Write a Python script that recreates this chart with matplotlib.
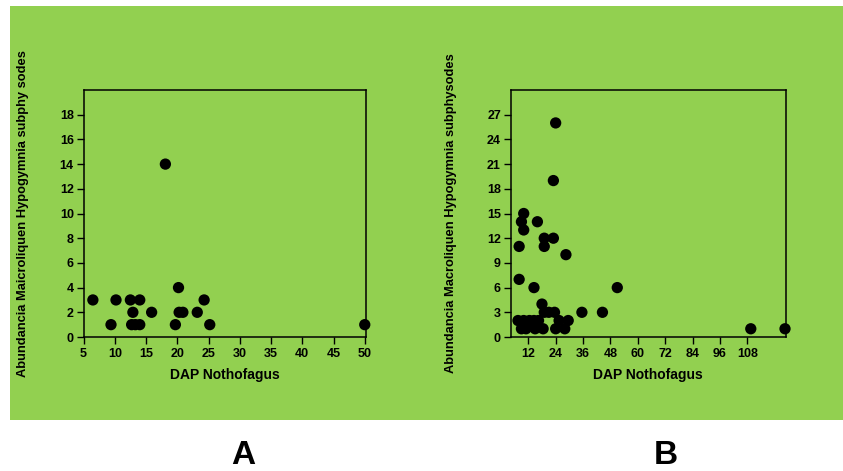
import matplotlib
matplotlib.use("Agg")
import matplotlib.pyplot as plt
from matplotlib.patches import Rectangle

plt.rcParams['font.family'] = ['Liberation Sans', 'DejaVu Sans']
plt.rcParams['font.weight'] = 'bold'

# Panel A: DAP vs abundancia (Maicroliquen)
dap_a = [6.5, 10.2, 9.4, 12.5, 14.0, 12.9, 12.7, 13.3, 14.0, 15.9, 18.1,
         19.7, 20.2, 20.3, 20.9, 23.2, 24.3, 25.2, 50.0]
abund_a = [3, 3, 1, 3, 3, 2, 1, 1, 1, 2, 14,
           1, 4, 2, 2, 2, 3, 1, 1]

# Panel B: DAP vs abundancia (Macroliquen)
dap_b = [24.0, 23.0, 10.0, 9.0, 16.0, 10.0, 19.0, 23.0, 8.0, 19.0, 28.5,
         8.0, 14.5, 51.0, 18.0, 19.0, 21.0, 23.5, 35.5, 44.5,
         7.5, 10.0, 12.5, 14.5, 16.5, 25.5, 29.5,
         9.0, 11.0, 15.0, 18.5, 24.0, 28.0, 109.5, 124.5]
abund_b = [26, 19, 15, 14, 14, 13, 12, 12, 11, 11, 10,
           7, 6, 6, 4, 3, 3, 3, 3, 3,
           2, 2, 2, 2, 2, 2, 2,
           1, 1, 1, 1, 1, 1, 1, 1]

xticks_a = list(range(5, 55, 5))
yticks_a = list(range(0, 20, 2))
xticks_b = list(range(12, 120, 12))
yticks_b = list(range(0, 30, 3))

verde = '#92D050'
W, H = 843, 471

fig = plt.figure(figsize=(W / 100, H / 100), dpi=100, facecolor='white')
fig.patches.append(Rectangle((10 / W, (H - 420) / H), 833 / W, 414 / H,
                             transform=fig.transFigure, facecolor=verde,
                             edgecolor='none', zorder=-5))


def panel(left_px, width_px, x, y, xticks, yticks, xlim, ylim, ylabel):
    ax = fig.add_axes([left_px / W, (H - 337) / H, width_px / W, 247 / H])
    ax.set_facecolor(verde)
    ax.scatter(x, y, s=66, color='black', edgecolors='none', zorder=3,
               clip_on=False)
    ax.set_xlim(*xlim)
    ax.set_ylim(*ylim)
    ax.set_xticks(xticks)
    ax.set_yticks(yticks)
    ax.tick_params(direction='out', length=5, width=1, colors='black',
                   labelsize=9)
    ax.tick_params(axis='y', pad=2)
    ax.tick_params(axis='x', pad=3)
    for sp in ax.spines.values():
        sp.set_linewidth(1.1)
        sp.set_color('black')
    ax.set_xlabel('DAP Nothofagus', fontsize=10, fontweight='bold',
                  labelpad=6)
    ax.set_ylabel(ylabel, fontsize=9.3, fontweight='bold')
    return ax


ax_a = panel(83.5, 282.2, dap_a, abund_a, xticks_a, yticks_a, (5, 50.15),
             (0, 20), 'Abundancia Maicroliquen Hypogymnia subphy sodes')
ax_a.yaxis.set_label_coords(-0.193, 0.5)

ax_b = panel(510.7, 275.0, dap_b, abund_b, xticks_b, yticks_b, (4.3, 124.8),
             (0, 30), 'Abundancia Macroliquen Hypogymnia subphysodes')
ax_b.yaxis.set_label_coords(-0.195, 0.5)

fig.text(243 / W, 1 - 456 / H, 'A', fontsize=24, fontweight='bold',
         ha='center', va='center')
fig.text(666 / W, 1 - 456 / H, 'B', fontsize=24, fontweight='bold',
         ha='center', va='center')

fig.savefig('out.png', dpi=100, facecolor='white')
